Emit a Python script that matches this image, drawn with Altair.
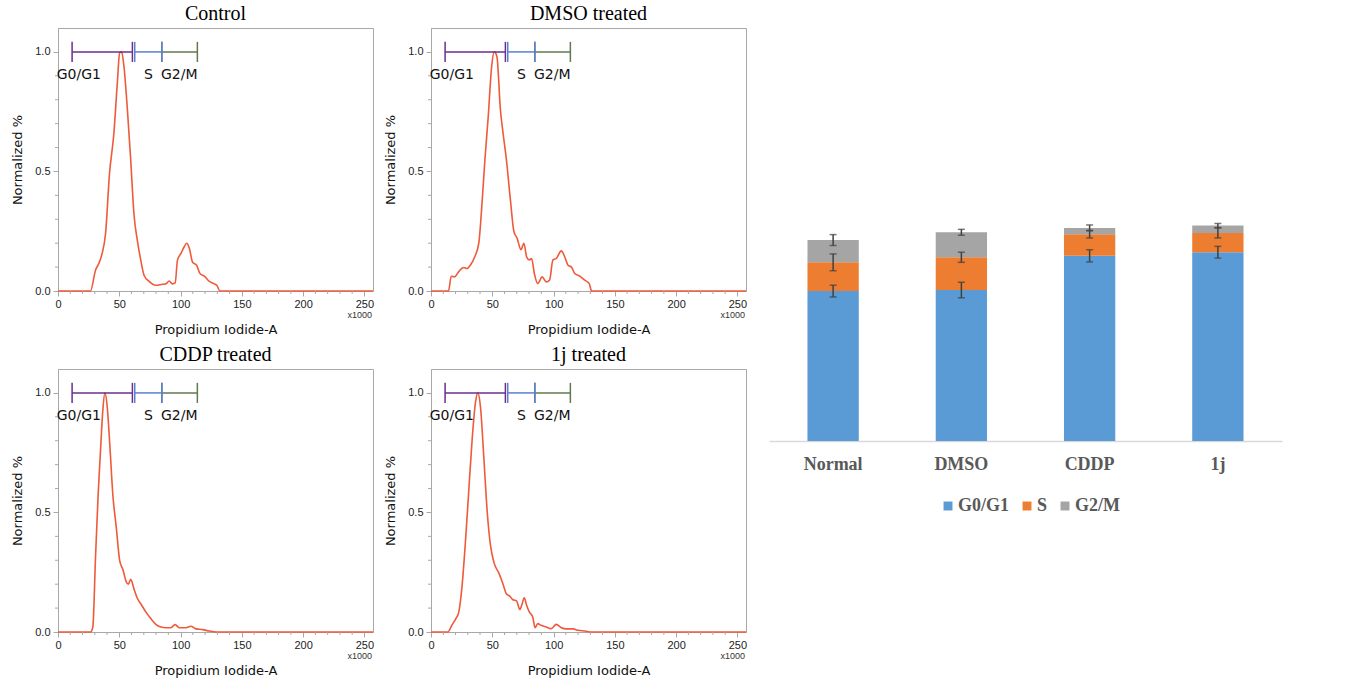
import altair as alt
import pandas as pd

# ---------------- Flow cytometry histograms (x in thousands) ----------------
ctrl_x = [0, 26.5, 30.6, 33.3, 36, 38.8, 42, 45.6, 48.4, 50.3, 51.9, 53.8, 56.6, 59.3, 62, 64.8, 67.5, 70.2, 74.3, 79.8,
          85.2, 88, 90.7, 93.4, 95.6, 97.5, 100.3, 103, 104.9, 107.1, 109.8, 113.1, 115.8, 119.4, 123.5, 127.6, 129.5, 132.2, 257]
ctrl_y = [0, 0, 0.087, 0.115, 0.157, 0.24, 0.49, 0.66, 0.87, 0.996, 1.0, 0.94, 0.76, 0.55, 0.32, 0.21, 0.13, 0.066, 0.04, 0.024,
          0.028, 0.03, 0.042, 0.03, 0.034, 0.13, 0.157, 0.185, 0.2, 0.18, 0.12, 0.108, 0.073, 0.062, 0.04, 0.03, 0.024, 0, 0]

dmso_x = [0, 14.3, 16.5, 19.2, 22.5, 26.6, 29.4, 32.1, 35.7, 39, 41.8, 44, 46.7, 49.5, 51.6, 53.8, 56.6, 58.8, 61.5, 64.8,
          67.6, 70.3, 73.4, 75.8, 78, 80.2, 82.1, 84.3, 87.1, 90.7, 94, 96.7, 99.5, 102.2, 106.3, 109.1, 111.8, 114.6, 117.3, 121.4,
          125.5, 129.1, 131, 257]
dmso_y = [0, 0, 0.062, 0.059, 0.08, 0.098, 0.094, 0.108, 0.143, 0.2, 0.38, 0.55, 0.73, 0.94, 1.0, 0.98, 0.76, 0.66, 0.55, 0.38,
          0.25, 0.22, 0.173, 0.2, 0.143, 0.13, 0.136, 0.073, 0.031, 0.059, 0.038, 0.045, 0.13, 0.136, 0.168, 0.143, 0.108, 0.1, 0.073, 0.062,
          0.045, 0.031, 0, 0]

cddp_x = [0, 26.5, 28.4, 30.6, 32.8, 34.7, 36.6, 38.3, 40.2, 42.3, 44.8, 47.5, 50.3, 53, 55.7, 57.4, 59.3, 62, 64.8, 68.3,
          71.6, 75.7, 79.8, 83.9, 88, 92, 95.6, 98.9, 104.4, 108.5, 112.6, 118, 123.5, 129, 257]
cddp_y = [0, 0, 0.02, 0.31, 0.58, 0.76, 0.93, 1.0, 0.94, 0.78, 0.57, 0.44, 0.3, 0.26, 0.21, 0.2, 0.22, 0.18, 0.14, 0.112,
          0.084, 0.056, 0.032, 0.021, 0.018, 0.018, 0.031, 0.018, 0.018, 0.024, 0.013, 0.01, 0.004, 0, 0]

j1_x = [0, 13.7, 17, 20.3, 22.5, 25.3, 28, 30.8, 33.5, 36.3, 38.2, 40.4, 43.1, 45.9, 48.6, 51.4, 55.5, 58.8, 61.5, 64.3,
        66.5, 69.8, 72.5, 74.2, 76.1, 78, 80.2, 83, 84.9, 87.1, 89.8, 94, 98.1, 102.2, 106.3, 110.4, 115.9, 120, 125.5, 131, 257]
j1_y = [0, 0, 0.028, 0.056, 0.08, 0.19, 0.37, 0.59, 0.8, 0.96, 1.0, 0.94, 0.73, 0.5, 0.36, 0.29, 0.245, 0.2, 0.16, 0.15,
        0.136, 0.13, 0.094, 0.115, 0.143, 0.112, 0.084, 0.063, 0.018, 0.035, 0.028, 0.021, 0.014, 0.032, 0.018, 0.013, 0.013, 0.007, 0.004, 0, 0]

panel_titles = ["Control", "DMSO treated", "CDDP treated", "1j treated"]

# axis ticks
x_major = [0, 50, 100, 150, 200, 250]
x_minor = [v for v in range(10, 251, 10) if v % 50 != 0]
y_major = [0.0, 0.5, 1.0]
y_minor = [0.1, 0.2, 0.3, 0.4, 0.6, 0.7, 0.8, 0.9]

# gates
gate_names = ["G0/G1", "S", "G2/M"]
gate_start = [11.5, 62.6, 84.7]
gate_end = [60.7, 84.7, 113.7]
gate_colors = ["#6A2E8E", "#5B7FD0", "#5E7A4E"]
gate_label_x = [-1.0, 70.2, 84.0]
gate_level = 1.0
gate_label_y = 0.905

# ---------------- Stacked bar chart ----------------
categories = ["Normal", "DMSO", "CDDP", "1j"]
phases = ["G0/G1", "S", "G2/M"]
phase_colors = ["#5B9BD5", "#ED7D31", "#A5A5A5"]
g0g1 = [71.4, 71.9, 88.2, 89.9]
s_phase = [13.7, 15.6, 10.3, 9.2]
g2m = [10.6, 11.9, 3.0, 3.5]
g0g1_err = [2.8, 3.7, 2.9, 2.8]
s_err = [4.0, 2.4, 1.8, 2.4]
g2m_err = [2.6, 1.4, 1.4, 1.0]

LINE_COLOR = "#EE5A3A"
FRAME = "#A8A8A8"

PW, PH = 315, 263


def hist_panel(xs, ys, title):
    df = pd.DataFrame({"x": xs, "y": ys})
    xscale = alt.Scale(domain=[0, 257], nice=False, zero=False)
    yscale = alt.Scale(domain=[0, 1.1], nice=False)
    xaxis = alt.Axis(
        title="Propidium Iodide-A", values=x_major, format="d",
        labelOverlap=False, labelFlush=False,
        grid=False, tickSize=5,
        tickColor=FRAME, domainColor=FRAME, labelFont="Liberation Sans", labelFontSize=11,
        labelColor="#222222", labelPadding=2, titleFont="DejaVu Sans", titleFontSize=13,
        titleFontWeight="normal", titleColor="#111111", titlePadding=14)
    yaxis = alt.Axis(
        title="Normalized %", values=y_major, format=".1f",
        labelOverlap=False, labelFlush=False,
        grid=False, tickSize=5,
        tickColor=FRAME, domainColor=FRAME, labelFont="Liberation Sans", labelFontSize=11,
        labelColor="#222222", labelPadding=3, titleFont="DejaVu Sans", titleFontSize=13,
        titleFontWeight="normal", titleColor="#111111", titlePadding=10)

    line = alt.Chart(df).mark_line(color=LINE_COLOR, strokeWidth=1.6, interpolate="monotone").encode(
        x=alt.X("x:Q", scale=xscale, axis=xaxis),
        y=alt.Y("y:Q", scale=yscale, axis=yaxis),
    )

    mx = alt.Chart(pd.DataFrame({"v": x_minor})).mark_rule(color=FRAME, strokeWidth=1).encode(
        x=alt.X("v:Q", axis=xaxis), y=alt.value(PH), y2=alt.value(PH + 3))
    my = alt.Chart(pd.DataFrame({"v": y_minor})).mark_rule(color=FRAME, strokeWidth=1).encode(
        y=alt.Y("v:Q", axis=yaxis), x=alt.value(0), x2=alt.value(-3))

    gdf = pd.DataFrame({"gate": gate_names, "start": gate_start, "end": gate_end,
                        "col": gate_colors, "lx": gate_label_x,
                        "gy": [gate_level] * 3, "glo": [gate_level - 0.042] * 3,
                        "ghi": [gate_level + 0.042] * 3, "ly": [gate_label_y] * 3})
    bars = alt.Chart(gdf).mark_rule(strokeWidth=1.5).encode(
        x=alt.X("start:Q", axis=xaxis), x2="end:Q", y=alt.Y("gy:Q", axis=yaxis),
        color=alt.Color("col:N", scale=None))
    ticks_s = alt.Chart(gdf).mark_rule(strokeWidth=1.5).encode(
        x=alt.X("start:Q", axis=xaxis), y=alt.Y("glo:Q", axis=yaxis), y2="ghi:Q",
        color=alt.Color("col:N", scale=None))
    ticks_e = alt.Chart(gdf).mark_rule(strokeWidth=1.5).encode(
        x=alt.X("end:Q", axis=xaxis), y=alt.Y("glo:Q", axis=yaxis), y2="ghi:Q",
        color=alt.Color("col:N", scale=None))
    labels = alt.Chart(gdf).mark_text(align="left", baseline="middle", font="DejaVu Sans",
                                      fontSize=14, color="#111111").encode(
        x=alt.X("lx:Q", axis=xaxis), y=alt.Y("ly:Q", axis=yaxis), text="gate:N")
    xk = alt.Chart(pd.DataFrame({"t": ["x1000"], "kx": [257], "ky": [0]})).mark_text(
        align="right", baseline="middle", fontSize=9, font="Liberation Sans", color="#333333", dx=-1, dy=24).encode(
        x=alt.X("kx:Q", axis=xaxis), y=alt.Y("ky:Q", axis=yaxis), text="t:N")

    return alt.layer(line, mx, my, bars, ticks_s, ticks_e, labels, xk).properties(
        width=PW, height=PH,
        title=alt.TitleParams(title, font="Liberation Serif", fontSize=20, fontWeight="normal",
                              color="#000000", offset=4),
        view=alt.ViewBackground(stroke=FRAME, strokeWidth=1),
    )


p1 = hist_panel(ctrl_x, ctrl_y, panel_titles[0])
p2 = hist_panel(dmso_x, dmso_y, panel_titles[1])
p3 = hist_panel(cddp_x, cddp_y, panel_titles[2])
p4 = hist_panel(j1_x, j1_y, panel_titles[3])

row1 = alt.hconcat(p1, p2, spacing=58, bounds="flush")
row2 = alt.hconcat(p3, p4, spacing=58, bounds="flush")
left = alt.vconcat(row1, row2, spacing=7)

# bar data
rows = []
for i, c in enumerate(categories):
    vals = [g0g1[i], s_phase[i], g2m[i]]
    errs = [g0g1_err[i], s_err[i], g2m_err[i]]
    cum = 0.0
    for k, ph in enumerate(phases):
        cum += vals[k]
        rows.append({"cat": c, "phase": ph, "ord": k, "value": vals[k],
                     "top": cum, "lo": cum - errs[k], "hi": cum + errs[k]})
bdf = pd.DataFrame(rows)

xenc = alt.X("cat:N", sort=categories,
             scale=alt.Scale(paddingInner=0.6, paddingOuter=0.3),
             axis=alt.Axis(title=None, labelAngle=0, labelFont="Liberation Serif", labelFontSize=18,
                           labelFontWeight="bold", labelColor="#595959", domainColor="#D9D9D9",
                           domainWidth=1.5, ticks=False, labelPadding=14))
yscale_b = alt.Scale(domain=[0, 196.7], nice=False)

stack = alt.Chart(bdf).mark_bar().encode(
    x=xenc,
    y=alt.Y("value:Q", stack="zero", scale=yscale_b, axis=None),
    color=alt.Color("phase:N", sort=phases,
                    scale=alt.Scale(domain=phases, range=phase_colors),
                    legend=alt.Legend(orient="none", legendX=881, legendY=469, direction="horizontal",
                                      title=None, symbolType="square", symbolSize=80, symbolStrokeWidth=0,
                                      labelFont="Liberation Serif", labelFontSize=18, labelFontWeight="bold",
                                      labelColor="#595959", columnPadding=8, labelOffset=1)),
    order=alt.Order("ord:Q"),
)
err_rule = alt.Chart(bdf).mark_rule(color="#404040", strokeWidth=1.5).encode(
    x=alt.X("cat:N", sort=categories), y=alt.Y("lo:Q", scale=yscale_b), y2="hi:Q")
err_lo = alt.Chart(bdf).mark_tick(color="#404040", size=7, thickness=1.5).encode(
    x=alt.X("cat:N", sort=categories), y=alt.Y("lo:Q", scale=yscale_b))
err_hi = alt.Chart(bdf).mark_tick(color="#404040", size=7, thickness=1.5).encode(
    x=alt.X("cat:N", sort=categories), y=alt.Y("hi:Q", scale=yscale_b))

bar_chart = alt.layer(stack, err_rule, err_lo, err_hi).properties(
    width=513, height=413,
    view=alt.ViewBackground(stroke="transparent"),
)

chart = alt.hconcat(left, bar_chart, spacing=18).properties(
    padding={"left": 11, "top": 3, "right": 5, "bottom": 5},
    background="white",
)

chart.save("out.html", embed_options={"renderer": "svg", "actions": False})
